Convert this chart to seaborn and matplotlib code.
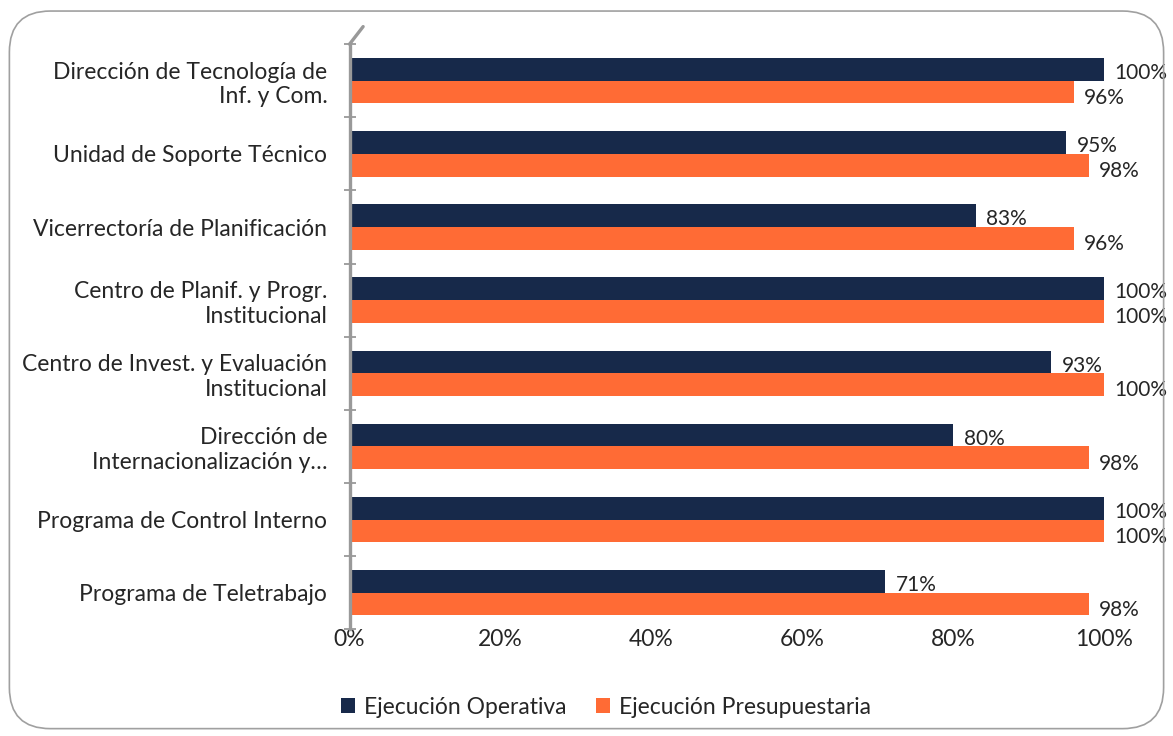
import pandas as pd
import matplotlib.pyplot as plt
import seaborn as sns
from matplotlib.patches import FancyBboxPatch

categorias = [
    "Dirección de Tecnología de\nInf. y Com.",
    "Unidad de Soporte Técnico",
    "Vicerrectoría de Planificación",
    "Centro de Planif. y Progr.\nInstitucional",
    "Centro de Invest. y Evaluación\nInstitucional",
    "Dirección de\nInternacionalización y…",
    "Programa de Control Interno",
    "Programa de Teletrabajo",
]
ejec_operativa = [100, 95, 83, 100, 93, 80, 100, 71]
ejec_presupuestaria = [96, 98, 96, 100, 100, 98, 100, 98]
series = ["Ejecución Operativa", "Ejecución Presupuestaria"]
colores = ["#17294a", "#ff6b35"]

df = pd.DataFrame({
    "categoria": categorias * 2,
    "serie": [series[0]] * len(categorias) + [series[1]] * len(categorias),
    "valor": ejec_operativa + ejec_presupuestaria,
})

sns.set_style("white")
plt.rcParams["font.family"] = ["Lato", "DejaVu Sans"]
text_color = "#262626"

fig = plt.figure(figsize=(11.73, 7.36), dpi=100)
ax = fig.add_axes([0.298, 0.145, 0.643, 0.795])

sns.barplot(data=df, y="categoria", x="valor", hue="serie", orient="h",
            palette=colores, width=0.62, ax=ax, saturation=1,
            edgecolor="none")

# etiquetas de valor
for cont, off in zip(ax.containers, [0.05, 0.08]):
    for bar, v in zip(cont, cont.datavalues):
        y = bar.get_y() + bar.get_height() / 2 + off
        ax.text(bar.get_width() + 1.4, y, f"{v:.0f}%", va="center", ha="left",
                fontsize=15, color=text_color)

ax.set_xlim(0, 100)
ax.set_ylim(len(categorias) - 0.5, -0.5)
ax.set_xticks([0, 20, 40, 60, 80, 100])
ax.set_xticklabels([f"{t}%" for t in [0, 20, 40, 60, 80, 100]], fontsize=16.5, color=text_color)
ax.tick_params(axis="x", length=0, pad=0)
ax.set_yticks(range(len(categorias)))
ax.set_yticklabels(categorias, fontsize=16.5, color=text_color)
ax.tick_params(axis="y", which="major", length=0, pad=16)
ax.set_yticks([i + 0.5 for i in range(-1, len(categorias))], minor=True)
ax.tick_params(axis="y", which="minor", left=True, length=9, width=1.3,
               color="#999999", direction="inout")
ax.set_xlabel("")
ax.set_ylabel("")
for s in ["top", "right", "bottom"]:
    ax.spines[s].set_visible(False)
ax.spines["left"].set_color("#999999")
ax.spines["left"].set_linewidth(2.4)
# esquina 3D del eje
ax.plot([0, 0.018], [1.0, 1.03], transform=ax.transAxes, color="#999999",
        lw=2.4, clip_on=False, solid_capstyle="round")

handles, labels = ax.get_legend_handles_labels()
ax.legend(handles, labels, loc="upper center", bbox_to_anchor=(0.34, -0.08),
          ncol=2, frameon=False, fontsize=16.5, handlelength=0.6, handleheight=0.6,
          columnspacing=1.3, handletextpad=0.4, labelcolor=text_color)

# borde redondeado
borde = FancyBboxPatch((0.008, 0.01), 0.984, 0.975, boxstyle="round,pad=0,rounding_size=0.035",
                       transform=fig.transFigure, fill=False, edgecolor="#a0a0a0", linewidth=1.2,
                       mutation_aspect=11.73 / 7.36)
fig.patches.append(borde)

fig.savefig("out.png", dpi=100)
